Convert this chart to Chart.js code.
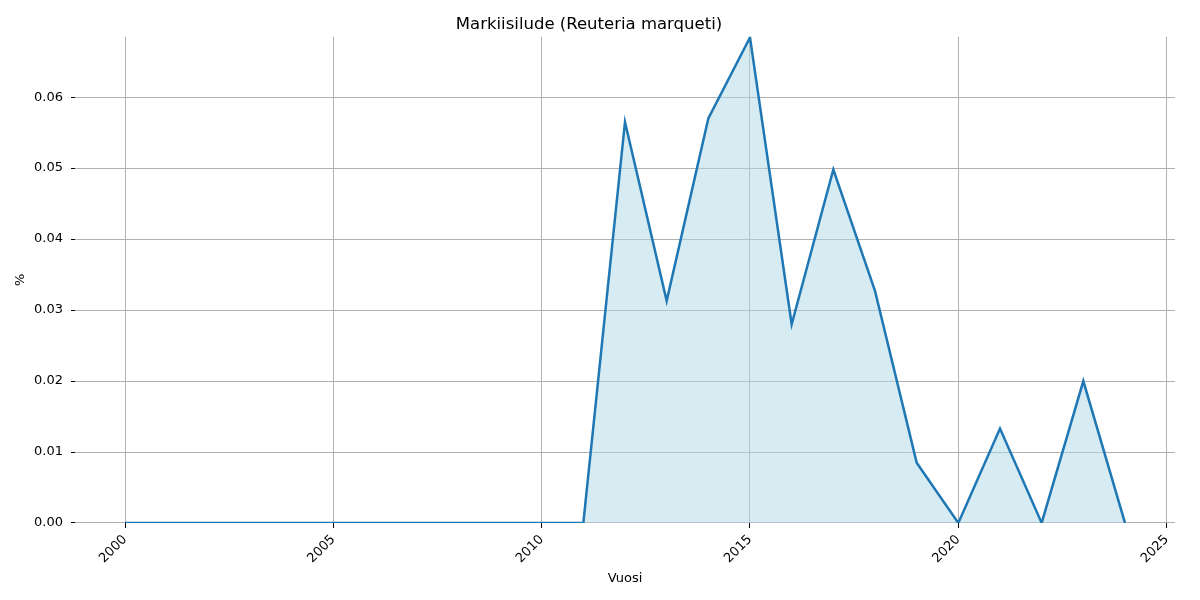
<!DOCTYPE html>
<html>
<head>
<meta charset="utf-8">
<script src="https://cdn.jsdelivr.net/npm/chart.js@4"></script>
<style>
  html, body { margin: 0; padding: 0; background: #fff; }
  #wrap { width: 1200px; height: 600px; }
</style>
</head>
<body>
<div id="wrap"><canvas id="lineChart"></canvas></div>
<script>
const years = [2000, 2001, 2002, 2003, 2004, 2005, 2006, 2007, 2008, 2009, 2010, 2011,
               2012, 2013, 2014, 2015, 2016, 2017, 2018, 2019, 2020, 2021, 2022, 2023, 2024];
const percent = [0, 0, 0, 0, 0, 0, 0, 0, 0, 0, 0, 0,
                 0.0565, 0.0313, 0.0570, 0.0684, 0.0280, 0.0498, 0.0327, 0.0085, 0, 0.0133, 0, 0.0200, 0];
const xTicks = [2000, 2005, 2010, 2015, 2020, 2025];
const yTicks = [0, 0.01, 0.02, 0.03, 0.04, 0.05, 0.06];

const font = { family: 'DejaVu Sans', size: 13 };

new Chart(document.getElementById('lineChart'), {
    type: 'line',
    data: {
        datasets: [{
            label: 'Markiisilude',
            data: years.map((y, i) => ({ x: y, y: percent[i] })),
            borderColor: '#1f77b4',
            borderWidth: 2.5,
            backgroundColor: 'rgba(173, 216, 230, 0.5)',
            fill: 'origin',
            pointRadius: 0,
            tension: 0
        }]
    },
    options: {
        responsive: true,
        maintainAspectRatio: false,
        animation: false,
        layout: { padding: { left: 3, right: 25, top: 8, bottom: 10 } },
        plugins: {
            legend: { display: false },
            tooltip: { enabled: false },
            title: {
                display: true,
                text: 'Markiisilude (Reuteria marqueti)',
                color: '#000',
                font: { family: 'DejaVu Sans', size: 16.5, weight: 'normal' },
                padding: { top: 7, bottom: 2 }
            }
        },
        scales: {
            x: {
                type: 'linear',
                min: 1998.8,
                max: 2025.2,
                afterBuildTicks: s => { s.ticks = xTicks.map(v => ({ value: v })); },
                afterFit: s => { s.paddingLeft = 0; },
                ticks: {
                    color: '#000',
                    font: font,
                    minRotation: 45,
                    maxRotation: 45,
                    padding: 4,
                    callback: v => String(v)
                },
                grid: { color: '#b0b0b0', lineWidth: 1, tickLength: 5, tickColor: '#000' },
                border: { display: false },
                title: { display: true, text: 'Vuosi', color: '#000', font: font, padding: { top: 0 } }
            },
            y: {
                min: 0,
                max: 0.0685,
                afterBuildTicks: s => { s.ticks = yTicks.map(v => ({ value: v })); },
                afterFit: s => { s.width = 72; },
                ticks: {
                    color: '#000',
                    font: font,
                    padding: 8,
                    callback: v => v.toFixed(2)
                },
                grid: { color: '#b0b0b0', lineWidth: 1, tickLength: 4, tickColor: '#000' },
                border: { display: false },
                title: { display: true, text: '%', color: '#000', font: font, padding: { top: 10, bottom: 8 } }
            }
        }
    }
});
</script>
</body>
</html>
